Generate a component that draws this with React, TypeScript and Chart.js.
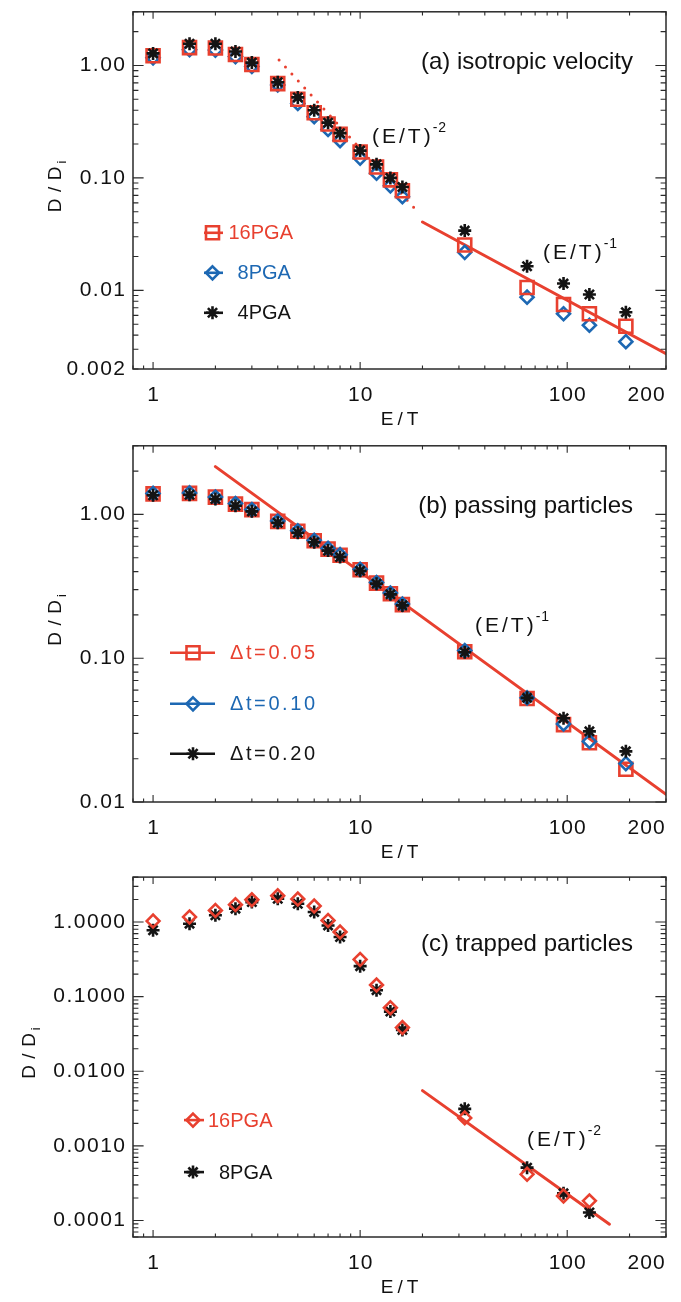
import React, { useEffect, useRef } from 'react';
import { Chart, registerables } from 'chart.js';

Chart.register(...registerables);

const RED = '#E8402F';
const BLUE = '#1D68B3';
const BLACK = '#141414';
const AXIS = '#2a2a2a';
const FONT = '"Liberation Sans", Arial, Helvetica, sans-serif';

// ---------- data ----------
const energy = [1, 1.5, 2, 2.5, 3, 4, 5, 6, 7, 8, 10, 12, 14, 16, 32, 64, 96, 128, 192];

// (a) isotropic velocity
const iso16PGA = [1.22, 1.44, 1.43, 1.25, 1.02, 0.69, 0.5, 0.38, 0.302, 0.244, 0.17, 0.125, 0.096, 0.077, 0.0253, 0.0106, 0.0075, 0.0062, 0.0048];
const iso8PGA = [1.17, 1.38, 1.37, 1.2, 0.98, 0.67, 0.46, 0.35, 0.27, 0.215, 0.15, 0.11, 0.085, 0.068, 0.0218, 0.0087, 0.0062, 0.0049, 0.0035];
const iso4PGA = [1.28, 1.56, 1.56, 1.33, 1.06, 0.71, 0.52, 0.4, 0.31, 0.25, 0.175, 0.132, 0.1, 0.083, 0.034, 0.0164, 0.0115, 0.0092, 0.0064];
const isoSlope2X = [4.06, 18.9];
const isoSlope2Y = [1.12, 0.0504];
const isoSlope1X = [20, 300];
const isoSlope1Y = [0.0406, 0.00274];

// (b) passing particles
const passDt005 = [1.39, 1.4, 1.32, 1.18, 1.08, 0.895, 0.764, 0.656, 0.574, 0.52, 0.412, 0.333, 0.281, 0.236, 0.111, 0.0525, 0.0345, 0.0258, 0.0169];
const passDt010 = [1.4, 1.41, 1.32, 1.19, 1.08, 0.9, 0.77, 0.66, 0.58, 0.525, 0.415, 0.336, 0.284, 0.238, 0.113, 0.053, 0.0349, 0.0264, 0.0185];
const passDt020 = [1.36, 1.37, 1.28, 1.15, 1.05, 0.875, 0.745, 0.64, 0.56, 0.505, 0.405, 0.33, 0.278, 0.233, 0.11, 0.053, 0.0382, 0.031, 0.0225];
const passFitX = [2, 300];
const passFitY = [2.15, 0.0113];

// (c) trapped particles
const energyTrapped = [1, 1.5, 2, 2.5, 3, 4, 5, 6, 7, 8, 10, 12, 14, 16, 32, 64, 96, 128];
const trap16PGA = [1.03, 1.17, 1.43, 1.71, 1.99, 2.25, 2.03, 1.64, 1.05, 0.735, 0.315, 0.143, 0.071, 0.0385, 0.00237, 0.000415, 0.000213, 0.000183];
const trap8PGA = [0.775, 0.95, 1.23, 1.51, 1.85, 2.05, 1.76, 1.36, 0.9, 0.63, 0.256, 0.122, 0.063, 0.0358, 0.00313, 0.00051, 0.000231, 0.000128];
const trapFitX = [20, 160];
const trapFitY = [0.0055, 0.000089];

// ticks
const xTickValues = [1, 10, 100, 200];
const xTickLabels = ['1', '10', '100', '200'];
const isoYTicks = [0.002, 0.01, 0.1, 1];
const isoYLabels = ['0.002', '0.01', '0.10', '1.00'];
const passYTicks = [0.01, 0.1, 1];
const passYLabels = ['0.01', '0.10', '1.00'];
const trapYTicks = [0.0001, 0.001, 0.01, 0.1, 1];
const trapYLabels = ['0.0001', '0.0010', '0.0100', '0.1000', '1.0000'];

// ---------- helpers ----------
const pts = (xs: number[], ys: number[]) => xs.map((x, i) => ({ x, y: ys[i] }));

type Marker = 'rect' | 'rectRot' | 'star';

const scatterSet = (label: string, xs: number[], ys: number[], style: Marker, color: string, radius: number) => ({
  label,
  data: pts(xs, ys),
  showLine: false,
  pointStyle: style,
  pointRadius: radius,
  pointBorderColor: color,
  pointBackgroundColor: 'rgba(0,0,0,0)',
  pointBorderWidth: 2.6,
  borderColor: color,
  backgroundColor: 'rgba(0,0,0,0)',
});

const lineSet = (label: string, xs: number[], ys: number[], color: string, dash: number[]) => ({
  label,
  data: pts(xs, ys),
  showLine: true,
  pointRadius: 0,
  borderColor: color,
  backgroundColor: color,
  borderWidth: 3,
  borderDash: dash,
  borderCapStyle: 'round',
  fill: false,
});

interface LegendItem { marker: Marker; color: string; label: string; textX: number; y: number; }
interface Note { text: string; sup: string; left: number; baseline: number; }
interface PanelSpec {
  top: number; height: number; padTop: number; padBottom: number;
  yMin: number; yMax: number; yTicks: number[]; yLabels: string[];
  yTitleX: number; title: string; titleBaseline: number;
  notes: Note[];
  legend: LegendItem[]; legendMarkerX: number; legendLine: [number, number];
  legendFont: number; legendSpacing: number;
  datasets: any[];
}

function logTicks(min: number, max: number) {
  const res: { v: number; major: boolean }[] = [];
  for (let d = Math.floor(Math.log10(min)) - 1; d <= Math.ceil(Math.log10(max)); d++) {
    for (let m = 1; m <= 9; m++) {
      const v = m * Math.pow(10, d);
      if (v >= min * 0.9999 && v <= max * 1.0001) res.push({ v, major: m === 1 });
    }
  }
  return res;
}

function drawSpaced(ctx: CanvasRenderingContext2D, text: string, x: number, y: number, spacing: number) {
  let cx = x;
  for (const ch of text) {
    ctx.fillText(ch, cx, y);
    cx += ctx.measureText(ch).width + spacing;
  }
  return cx - spacing;
}
function spacedWidth(ctx: CanvasRenderingContext2D, text: string, spacing: number) {
  let w = 0;
  for (const ch of text) w += ctx.measureText(ch).width + spacing;
  return w - spacing;
}

function drawMarker(ctx: CanvasRenderingContext2D, m: Marker, x: number, y: number, color: string) {
  ctx.save();
  ctx.strokeStyle = color;
  ctx.lineWidth = 2.6;
  ctx.beginPath();
  const r = 6.5;
  if (m === 'rect') {
    ctx.rect(x - r, y - r, 2 * r, 2 * r);
  } else if (m === 'rectRot') {
    ctx.moveTo(x, y - r); ctx.lineTo(x + r, y); ctx.lineTo(x, y + r); ctx.lineTo(x - r, y); ctx.closePath();
  } else {
    for (let k = 0; k < 4; k++) {
      const a = (k * Math.PI) / 4;
      const dx = Math.cos(a) * r, dy = Math.sin(a) * r;
      ctx.moveTo(x - dx, y - dy); ctx.lineTo(x + dx, y + dy);
    }
  }
  ctx.stroke();
  ctx.restore();
}

function makeFigurePlugin(spec: PanelSpec) {
  return {
    id: 'figure',
    afterDraw(chart: any) {
      const { ctx, chartArea: ca, scales } = chart;
      const xs = scales.x, ys = scales.y;
      ctx.save();
      // frame
      ctx.strokeStyle = AXIS;
      ctx.lineWidth = 1.5;
      ctx.strokeRect(ca.left, ca.top, ca.right - ca.left, ca.bottom - ca.top);
      // inward ticks on four sides
      ctx.lineWidth = 1.1;
      ctx.beginPath();
      for (const t of logTicks(xs.min, xs.max)) {
        const px = xs.getPixelForValue(t.v);
        const len = t.major ? 7 : 3.6;
        ctx.moveTo(px, ca.bottom); ctx.lineTo(px, ca.bottom - len);
        ctx.moveTo(px, ca.top); ctx.lineTo(px, ca.top + len);
      }
      for (const t of logTicks(ys.min, ys.max)) {
        const py = ys.getPixelForValue(t.v);
        const len = t.major ? 10.6 : 5.4;
        ctx.moveTo(ca.left, py); ctx.lineTo(ca.left + len, py);
        ctx.moveTo(ca.right, py); ctx.lineTo(ca.right - len, py);
      }
      ctx.stroke();

      // tick labels
      ctx.fillStyle = '#111';
      ctx.font = `21px ${FONT}`;
      ctx.textBaseline = 'middle';
      ctx.textAlign = 'left';
      spec.yTicks.forEach((v, i) => {
        const lab = spec.yLabels[i];
        const w = spacedWidth(ctx, lab, 1.5);
        drawSpaced(ctx, lab, ca.left - 8 - w, ys.getPixelForValue(v), 1.5);
      });
      xTickValues.forEach((v, i) => {
        const px = xs.getPixelForValue(v);
        const lab = xTickLabels[i];
        const w = spacedWidth(ctx, lab, 1);
        const last = i === xTickValues.length - 1;
        drawSpaced(ctx, lab, last ? px - 2 : px - w / 2, ca.bottom + 26, 1);
      });

      // x title
      ctx.textAlign = 'left';
      ctx.textBaseline = 'alphabetic';
      ctx.font = `19px ${FONT}`;
      const xt = 'E/T';
      const xw = spacedWidth(ctx, xt, 4);
      drawSpaced(ctx, xt, (ca.left + ca.right) / 2 - xw / 2, ca.bottom + 56, 4);

      // y title (rotated)
      ctx.save();
      ctx.translate(spec.yTitleX, (ca.top + ca.bottom) / 2 - 4);
      ctx.rotate(-Math.PI / 2);
      ctx.font = `19px ${FONT}`;
      const main = 'D/D';
      const mw = spacedWidth(ctx, main, 6.5);
      ctx.font = `13px ${FONT}`;
      const sw = ctx.measureText('i').width;
      const total = mw + 3 + sw;
      ctx.font = `19px ${FONT}`;
      const endX = drawSpaced(ctx, main, -total / 2, 7, 6.5);
      ctx.font = `13px ${FONT}`;
      ctx.fillText('i', endX + 3, 12);
      ctx.restore();

      // panel title
      ctx.font = `24px ${FONT}`;
      ctx.textAlign = 'right';
      ctx.fillStyle = '#111';
      ctx.fillText(spec.title, ca.right - 33, ca.top + spec.titleBaseline);

      // power-law notes
      ctx.textAlign = 'left';
      for (const n of spec.notes) {
        ctx.font = `21px ${FONT}`;
        const ex = drawSpaced(ctx, n.text, ca.left + n.left, ca.top + n.baseline, 3);
        ctx.font = `14px ${FONT}`;
        drawSpaced(ctx, n.sup, ex + 2, ca.top + n.baseline - 11, 1);
      }

      // legend
      for (const it of spec.legend) {
        const y = ca.top + it.y;
        ctx.strokeStyle = it.color;
        ctx.lineWidth = 2.6;
        ctx.beginPath();
        ctx.moveTo(ca.left + spec.legendLine[0], y);
        ctx.lineTo(ca.left + spec.legendLine[1], y);
        ctx.stroke();
        drawMarker(ctx, it.marker, ca.left + spec.legendMarkerX, y, it.color);
        ctx.fillStyle = it.color;
        ctx.font = `${spec.legendFont}px ${FONT}`;
        ctx.textBaseline = 'middle';
        drawSpaced(ctx, it.label, ca.left + it.textX, y + 1, spec.legendSpacing);
        ctx.textBaseline = 'alphabetic';
      }
      ctx.restore();
    },
  };
}

// ---------- panel specs ----------
const panels: PanelSpec[] = [
  {
    top: 0, height: 434, padTop: 9, padBottom: 65,
    yMin: 0.002, yMax: 3.0, yTicks: isoYTicks, yLabels: isoYLabels,
    yTitleX: 54, title: '(a) isotropic velocity', titleBaseline: 57,
    notes: [
      { text: '(E/T)', sup: '-2', left: 239, baseline: 131 },
      { text: '(E/T)', sup: '-1', left: 410, baseline: 247 },
    ],
    legend: [
      { marker: 'rect', color: RED, label: '16PGA', textX: 95.5, y: 221 },
      { marker: 'rectRot', color: BLUE, label: '8PGA', textX: 104.6, y: 261 },
      { marker: 'star', color: BLACK, label: '4PGA', textX: 104.6, y: 301 },
    ],
    legendMarkerX: 79.5, legendLine: [71, 90], legendFont: 20, legendSpacing: 0,
    datasets: [
      scatterSet('4PGA', energy, iso4PGA, 'star', BLACK, 6.5),
      scatterSet('16PGA', energy, iso16PGA, 'rect', RED, 9.2),
      scatterSet('8PGA', energy, iso8PGA, 'rectRot', BLUE, 6.5),
      lineSet('(E/T)^-2', isoSlope2X, isoSlope2Y, RED, [0, 9.5]),
      lineSet('(E/T)^-1', isoSlope1X, isoSlope1Y, RED, []),
    ],
  },
  {
    top: 434, height: 434, padTop: 8, padBottom: 66,
    yMin: 0.01, yMax: 3.0, yTicks: passYTicks, yLabels: passYLabels,
    yTitleX: 54, title: '(b) passing particles', titleBaseline: 67,
    notes: [{ text: '(E/T)', sup: '-1', left: 342, baseline: 186 }],
    legend: [
      { marker: 'rect', color: RED, label: 'Δt=0.05', textX: 97, y: 207 },
      { marker: 'rectRot', color: BLUE, label: 'Δt=0.10', textX: 97, y: 258 },
      { marker: 'star', color: BLACK, label: 'Δt=0.20', textX: 97, y: 308 },
    ],
    legendMarkerX: 60, legendLine: [37, 82], legendFont: 20, legendSpacing: 2.6,
    datasets: [
      scatterSet('Δt=0.20', energy, passDt020, 'star', BLACK, 6.5),
      scatterSet('Δt=0.10', energy, passDt010, 'rectRot', BLUE, 6.5),
      scatterSet('Δt=0.05', energy, passDt005, 'rect', RED, 9.2),
      lineSet('(E/T)^-1', passFitX, passFitY, RED, []),
    ],
  },
  {
    top: 868, height: 434, padTop: 9, padBottom: 65,
    yMin: 0.00006, yMax: 4.0, yTicks: trapYTicks, yLabels: trapYLabels,
    yTitleX: 28, title: '(c) trapped particles', titleBaseline: 74,
    notes: [{ text: '(E/T)', sup: '-2', left: 394, baseline: 269 }],
    legend: [
      { marker: 'rectRot', color: RED, label: '16PGA', textX: 75, y: 243 },
      { marker: 'star', color: BLACK, label: '8PGA', textX: 86, y: 295 },
    ],
    legendMarkerX: 60, legendLine: [51, 71], legendFont: 20, legendSpacing: 0,
    datasets: [
      scatterSet('16PGA', energyTrapped, trap16PGA, 'rectRot', RED, 6.4),
      scatterSet('8PGA', energyTrapped, trap8PGA, 'star', BLACK, 6.5),
      lineSet('(E/T)^-2', trapFitX, trapFitY, RED, []),
    ],
  },
];

function Panel({ spec }: { spec: PanelSpec }) {
  const ref = useRef<HTMLCanvasElement>(null);
  useEffect(() => {
    const chart = new Chart(ref.current as HTMLCanvasElement, {
      type: 'scatter',
      data: { datasets: spec.datasets },
      options: {
        responsive: false,
        animation: false,
        devicePixelRatio: 1,
        events: [],
        layout: { padding: { left: 133, right: 15, top: spec.padTop, bottom: spec.padBottom } },
        plugins: { legend: { display: false }, tooltip: { enabled: false } },
        scales: {
          x: { type: 'logarithmic', display: false, min: 0.8, max: 300 },
          y: { type: 'logarithmic', display: false, min: spec.yMin, max: spec.yMax },
        },
      } as any,
      plugins: [makeFigurePlugin(spec)],
    } as any);
    return () => chart.destroy();
  }, [spec]);
  return (
    <canvas
      ref={ref}
      width={681}
      height={spec.height}
      style={{ position: 'absolute', left: 0, top: spec.top, width: 681, height: spec.height }}
    />
  );
}

export default function App() {
  return (
    <div style={{ position: 'absolute', left: 0, top: 0, width: 681, height: 1302, background: '#fff' }}>
      {panels.map((p, i) => (
        <Panel key={i} spec={p} />
      ))}
    </div>
  );
}
